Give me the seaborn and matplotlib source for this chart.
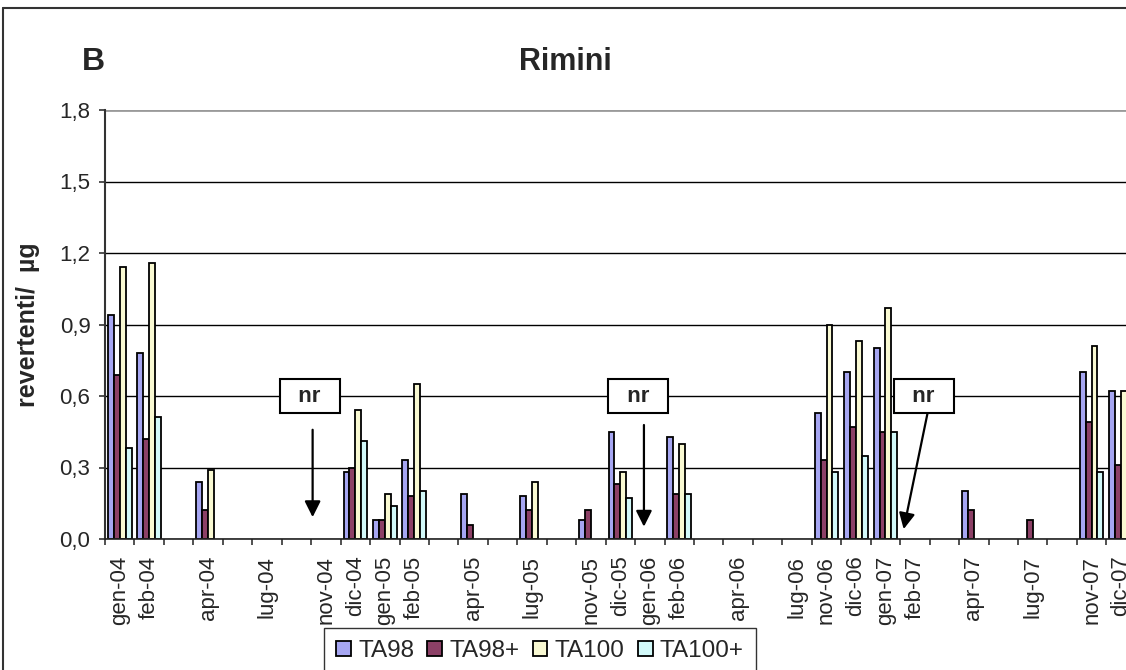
import matplotlib
matplotlib.use("Agg")
import matplotlib.pyplot as plt
from matplotlib.lines import Line2D
from matplotlib.ticker import FixedLocator
import numpy as np
import pandas as pd
import seaborn as sns

nan = np.nan

months = [
    "gen-04", "feb-04", "", "apr-04", "", "lug-04", "", "nov-04", "dic-04",
    "gen-05", "feb-05", "", "apr-05", "", "lug-05", "", "nov-05", "dic-05",
    "gen-06", "feb-06", "", "apr-06", "", "lug-06", "nov-06", "dic-06",
    "gen-07", "feb-07", "", "apr-07", "", "lug-07", "", "nov-07", "dic-07",
]

ta98 = [0.94, 0.78, nan, 0.24, nan, nan, nan, nan, 0.28,
        0.08, 0.33, nan, 0.19, nan, 0.18, nan, 0.08, 0.45,
        nan, 0.43, nan, nan, nan, nan, 0.53, 0.70,
        0.80, nan, nan, 0.20, nan, nan, nan, 0.70, 0.62]
ta98p = [0.69, 0.42, nan, 0.12, nan, nan, nan, nan, 0.30,
         0.08, 0.18, nan, 0.06, nan, 0.12, nan, 0.12, 0.23,
         nan, 0.19, nan, nan, nan, nan, 0.33, 0.47,
         0.45, nan, nan, 0.12, nan, 0.08, nan, 0.49, 0.31]
ta100 = [1.14, 1.16, nan, 0.29, nan, nan, nan, nan, 0.54,
         0.19, 0.65, nan, nan, nan, 0.24, nan, nan, 0.28,
         nan, 0.40, nan, nan, nan, nan, 0.90, 0.83,
         0.97, nan, nan, nan, nan, nan, nan, 0.81, 0.62]
ta100p = [0.38, 0.51, nan, nan, nan, nan, nan, nan, 0.41,
          0.14, 0.20, nan, nan, nan, nan, nan, nan, 0.17,
          nan, 0.19, nan, nan, nan, nan, 0.28, 0.35,
          0.45, nan, nan, nan, nan, nan, nan, 0.28, nan]

series = ["TA98", "TA98+", "TA100", "TA100+"]
colors = ["#9999FF", "#993366", "#FFFFCC", "#CCFFFF"]

yticks = [0.0, 0.3, 0.6, 0.9, 1.2, 1.5, 1.8]

# notes "nr" (not received): box position, arrow start, arrow end
nr_notes = [
    ((6.45, 0.60), (6.55, 0.47), (6.55, 0.08)),
    ((17.6, 0.60), (17.8, 0.49), (17.8, 0.04)),
    ((27.3, 0.60), (27.45, 0.54), (26.6, 0.03)),
]

rows = []
for name, vals in zip(series, [ta98, ta98p, ta100, ta100p]):
    for i, v in enumerate(vals):
        rows.append({"slot": i, "serie": name, "val": v})
df = pd.DataFrame(rows)

sns.set_style("white")
plt.rcParams["font.family"] = ["Liberation Sans", "DejaVu Sans"]

fig = plt.figure(figsize=(11.26, 6.70), dpi=100)
ax = fig.add_axes([105 / 1126, 131 / 670, 1 - 105 / 1126, 429 / 670])

sns.barplot(
    data=df, x="slot", y="val", hue="serie", order=list(range(len(months))),
    hue_order=series, palette=colors, width=0.8, edgecolor="black",
    linewidth=1.3, ax=ax, errorbar=None,
)

ax.set_xlim(-0.5, (1126 - 105) / 29.45 - 0.5)
ax.set_ylim(0, 1.8)
ax.set_axisbelow(True)
ax.yaxis.grid(True, color="black", lw=1)
ax.xaxis.grid(False)
ax.set_yticks(yticks)
ax.set_yticklabels([f"{t:.1f}".replace(".", ",") for t in yticks], fontsize=16)
ax.get_ygridlines()[-1].set_color("#9a9a9a")
ax.get_ygridlines()[-1].set_linewidth(2)

ax.set_xticks(range(len(months)))
ax.set_xticklabels(months, rotation=90, fontsize=16, va="top")
ax.xaxis.set_minor_locator(FixedLocator(np.arange(-0.5, len(months), 1.0)))
ax.tick_params(axis="x", which="major", length=0, pad=12)
ax.tick_params(axis="x", which="minor", length=4.5, width=1.2, color="#333333", direction="out", bottom=True)
ax.tick_params(axis="y", length=4.5, width=1.2, color="#333333", direction="out", left=True, pad=6)

ax.set_xlabel("")
ax.set_ylabel("")
for s in ["top", "right"]:
    ax.spines[s].set_visible(False)
ax.spines["left"].set_color("#333333")
ax.spines["left"].set_linewidth(1.5)
ax.spines["bottom"].set_color("#222222")
ax.spines["bottom"].set_linewidth(1.2)

for (bx, by), (sx, sy), (ex, ey) in nr_notes:
    ax.text(bx, by, "  nr  ", ha="center", va="center", fontsize=16, fontweight="bold",
            bbox={"boxstyle": "square,pad=0.3", "fc": "white", "ec": "black", "lw": 1.5}, zorder=5)
    ax.annotate("", xy=(ex, ey), xytext=(sx, sy),
                arrowprops={"arrowstyle": "-|>", "lw": 1.6, "color": "black", "mutation_scale": 24})

handles, labels = ax.get_legend_handles_labels()
ax.get_legend().remove()
fig.legend(handles, labels, ncol=4, loc="upper center", bbox_to_anchor=(540 / 1126, 1 - 628 / 670),
           frameon=True, fancybox=False, edgecolor="#333333", framealpha=1, fontsize=17.5,
           handlelength=0.6, handleheight=0.6, handletextpad=0.3, columnspacing=0.55,
           borderpad=0.5, borderaxespad=0)

fig.text(565 / 1126, 1 - 62 / 670, "Rimini", ha="center", va="center", fontsize=22, fontweight="bold")
fig.text(82 / 1126, 1 - 62 / 670, "B", ha="left", va="center", fontsize=23, fontweight="bold")
fig.text(28 / 1126, 1 - 325 / 670, "revertenti/  µg", ha="center", va="center", rotation=90,
         fontsize=18, fontweight="bold")

# outer chart frame (cropped at right and bottom)
fig.add_artist(Line2D([3 / 1126, 3 / 1126], [0, 1 - 8 / 670], transform=fig.transFigure, color="#333333", lw=1.5))
fig.add_artist(Line2D([3 / 1126, 1], [1 - 8 / 670, 1 - 8 / 670], transform=fig.transFigure, color="#333333", lw=1.5))

fig.savefig("out.png", dpi=100)
